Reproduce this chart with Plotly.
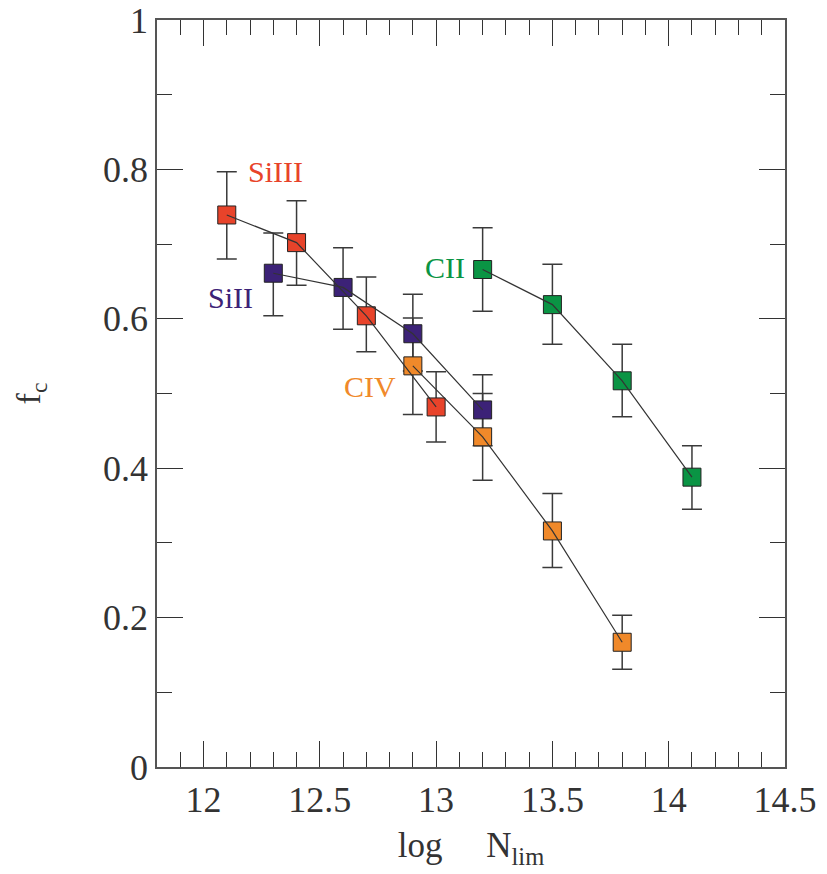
import plotly.graph_objects as go

# ---- data ----
siIII_x = [12.1, 12.4, 12.7, 13.0]
siIII_y = [0.739, 0.702, 0.604, 0.482]
siIII_hi = [0.797, 0.758, 0.656, 0.529]
siIII_lo = [0.680, 0.645, 0.556, 0.435]

siII_x = [12.3, 12.6, 12.9, 13.2]
siII_y = [0.661, 0.642, 0.580, 0.478]
siII_hi = [0.715, 0.695, 0.633, 0.525]
siII_lo = [0.604, 0.586, 0.530, 0.430]

civ_x = [12.9, 13.2, 13.5, 13.8]
civ_y = [0.537, 0.442, 0.316, 0.167]
civ_hi = [0.601, 0.500, 0.366, 0.203]
civ_lo = [0.472, 0.384, 0.267, 0.131]

cii_x = [13.2, 13.5, 13.8, 14.1]
cii_y = [0.666, 0.619, 0.517, 0.388]
cii_hi = [0.722, 0.673, 0.566, 0.430]
cii_lo = [0.610, 0.566, 0.469, 0.345]

series = [
    ("SiIII", siIII_x, siIII_y, siIII_hi, siIII_lo, "#E8432A"),
    ("SiII", siII_x, siII_y, siII_hi, siII_lo, "#3C2277"),
    ("CIV", civ_x, civ_y, civ_hi, civ_lo, "#F0892A"),
    ("CII", cii_x, cii_y, cii_hi, cii_lo, "#0A9444"),
]

labels = [
    ("SiIII", 12.31, 0.797, "#E8432A"),
    ("SiII", 12.116, 0.628, "#3C2277"),
    ("CII", 13.04, 0.669, "#0A9444"),
    ("CIV", 12.714, 0.509, "#F0892A"),
]

FONT = "Liberation Serif"
fig = go.Figure()

for name, xs, ys, hi, lo, col in series:
    fig.add_trace(go.Scatter(
        x=xs, y=ys, mode="markers", marker=dict(size=0.1, opacity=0),
        error_y=dict(type="data", symmetric=False,
                     array=[h - y for h, y in zip(hi, ys)],
                     arrayminus=[y - l for l, y in zip(lo, ys)],
                     color="#3a3a3a", thickness=1.5, width=10),
        showlegend=False, hoverinfo="skip"))
for name, xs, ys, hi, lo, col in series:
    fig.add_trace(go.Scatter(
        x=xs, y=ys, mode="markers", name=name,
        marker=dict(symbol="square", size=18, color=col,
                    line=dict(color="#222222", width=1)),
        showlegend=False))
for name, xs, ys, hi, lo, col in series:
    fig.add_trace(go.Scatter(
        x=xs, y=ys, mode="lines", line=dict(color="#333333", width=1.2),
        showlegend=False, hoverinfo="skip"))

for txt, x, y, col in labels:
    fig.add_annotation(x=x, y=y, text=txt, showarrow=False,
                       font=dict(family=FONT, size=30, color=col))

axis_common = dict(
    showgrid=False, zeroline=False, showline=True, linecolor="#555555",
    linewidth=1.5, mirror="allticks", ticks="inside", ticklen=26,
    tickwidth=1.2, tickcolor="#333333", automargin=False,
    tickfont=dict(family=FONT, size=36, color="#333333"),
)

fig.update_xaxes(range=[11.8, 14.5], tick0=12, dtick=0.5,
                 minor=dict(ticks="inside", ticklen=15, dtick=0.1, tick0=12,
                            tickcolor="#333333", tickwidth=1.2),
                 title=dict(text="log&nbsp;&nbsp;&nbsp;&nbsp;&nbsp;N<sub>lim</sub>",
                            font=dict(family=FONT, size=35, color="#333333"),
                            standoff=14),
                 **axis_common)
fig.update_yaxes(range=[0, 1], tick0=0, dtick=0.2,
                 tickformat="~g",
                 minor=dict(ticks="inside", ticklen=15, dtick=0.1,
                            tickcolor="#333333", tickwidth=1.2),
                 title=dict(text="f<sub>c</sub>",
                            font=dict(family=FONT, size=34, color="#333333"),
                            standoff=52),
                 **axis_common)

fig.update_layout(
    width=827, height=874,
    margin=dict(l=157, r=42, t=20, b=107),
    plot_bgcolor="white", paper_bgcolor="white",
)

fig.write_html("out.html")
